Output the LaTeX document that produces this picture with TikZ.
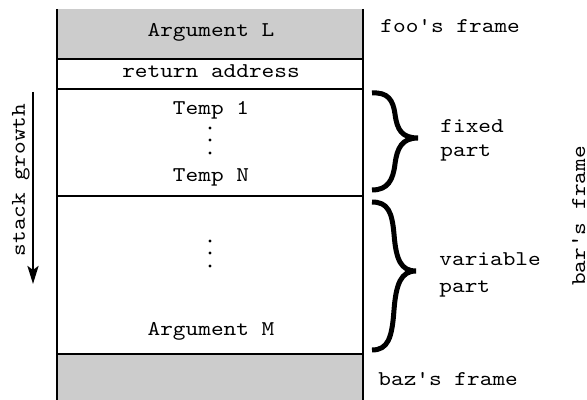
\documentclass[tikz,border=0pt]{standalone}
\usepackage{fontspec}
\setmonofont[FakeStretch=1.15]{Latin Modern Mono}
\usetikzlibrary{arrows.meta}
\definecolor{framegray}{RGB}{204,204,204}
\tikzset{
  lbl/.style={inner sep=0pt, font=\ttfamily\fontsize{10.5}{12}\selectfont},
  cellline/.style={line width=1pt},
  bracepath/.style={line width=2.5pt, line cap=butt},
  dotmark/.style={fill=black, draw=none},
}
\begin{document}
\begin{tikzpicture}[x=0.5pt, y=-0.5pt]
\useasboundingbox (0,0) rectangle (587,400);

% shaded caller / callee frames
\fill[framegray] (57,9) rectangle (363,59);
\fill[framegray] (57,354) rectangle (363,400);

% cell separators
\draw[cellline] (57,59) -- (363,59);
\draw[cellline] (57,89) -- (363,89);
\draw[cellline] (57,196) -- (363,196);
\draw[cellline] (57,354) -- (363,354);

% stack walls
\draw[line width=1.4pt] (57,9) -- (57,400);
\draw[line width=1pt] (363,9) -- (363,400);

% cell contents
\node[lbl, anchor=base] (argL) at (211,37) {Argument L};
\node[lbl, anchor=base] (ret) at (211,78) {return address};
\node[lbl, anchor=base] (t1) at (211,115) {Temp 1};
\node[lbl, anchor=base] (tn) at (211,182) {Temp N};
\node[lbl, anchor=base] (argM) at (211,335) {Argument M};

% vertical ellipses
\foreach \yy in {128,140,153} \fill[dotmark] (210,\yy) circle (1.6);
\foreach \yy in {241,253,266} \fill[dotmark] (210,\yy) circle (1.6);

% frame labels
\node[lbl, anchor=base west] (foo) at (380,33) {foo's frame};
\node[lbl, anchor=base west] (baz) at (378,385) {baz's frame};
\node[lbl, anchor=base, rotate=90] (bar) at (585,216) {bar's frame};

% braces
\draw[bracepath] (372,93) .. controls (388,92) and (393,100) .. (395,114)
  .. controls (397,130) and (402,138) .. (418,138)
  .. controls (402,138) and (397,148) .. (395,164)
  .. controls (393,180) and (388,190) .. (372,190);
\draw[bracepath] (372,202) .. controls (388,202) and (392,212) .. (394,234)
  .. controls (396,260) and (401,271) .. (416,271)
  .. controls (401,271) and (396,284) .. (394,310)
  .. controls (392,338) and (388,350) .. (372,350);

\node[lbl, anchor=base west] (fixed) at (440,133) {fixed};
\node[lbl, anchor=base west] (fpart) at (440,157) {part};
\node[lbl, anchor=base west] (var) at (439,265) {variable};
\node[lbl, anchor=base west] (vpart) at (439,292) {part};

% growth direction
\coordinate (gtop) at (33,92);
\coordinate (gbot) at (33,284);
\draw[line width=1.4pt, -{Stealth[length=9pt,width=5.5pt,inset=2pt]}] (gtop) -- (gbot);
\node[lbl, anchor=base, rotate=90] (growth) at (25,180) {stack growth};
\end{tikzpicture}
\end{document}
